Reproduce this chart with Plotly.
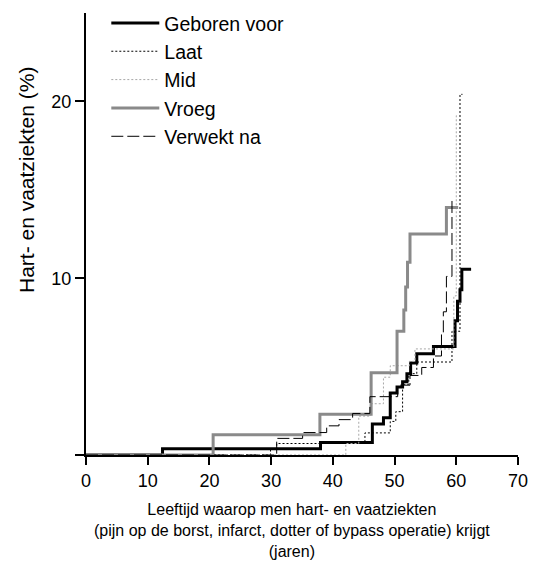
import plotly.graph_objects as go

# Age (years) at which each step occurs, and cumulative incidence (%) after the step
geboren_x = [0, 12.4, 38.0, 46.4, 48.2, 49.3, 50.4, 51.3, 52.0, 52.6, 53.6, 56.3, 59.8, 60.2, 60.6, 60.9, 62.4]
geboren_y = [0, 0.35, 0.7, 1.75, 2.1, 3.5, 3.85, 4.15, 4.6, 5.2, 5.73, 6.14, 7.6, 8.7, 9.35, 10.5, 10.5]

laat_x = [0, 29.9, 30.9, 45.2, 49.3, 50.2, 51.3, 52.3, 53.6, 59.3, 60.6, 61.0]
laat_y = [0, 0.33, 0.65, 1.25, 1.9, 2.45, 4.0, 4.6, 5.26, 7.0, 20.4, 20.4]

mid_x = [0, 42.1, 44.2, 46.1, 48.2, 49.3, 52.4, 53.3, 59.6, 60.0, 60.3]
mid_y = [0, 0.65, 2.2, 2.9, 4.4, 5.05, 5.3, 6.0, 9.0, 19.2, 19.2]

vroeg_x = [0, 20.6, 37.9, 46.2, 50.4, 51.5, 51.8, 52.1, 52.5, 58.4, 60.3]
vroeg_y = [0, 1.15, 2.3, 4.65, 7.0, 8.2, 9.5, 10.9, 12.5, 14.0, 14.0]

verwekt_x = [0, 30.9, 35.1, 39.0, 41.0, 43.2, 46.0, 50.5, 52.5, 54.4, 56.3, 57.6, 57.9, 58.4, 59.3, 59.7]
verwekt_y = [0, 0.94, 1.27, 1.65, 2.0, 2.35, 3.3, 3.95, 4.5, 4.95, 5.6, 6.9, 8.1, 10.1, 14.45, 14.45]

series = [
    ("Geboren voor", geboren_x, geboren_y, dict(color="black", width=3, dash="solid")),
    ("Laat", laat_x, laat_y, dict(color="black", width=1, dash="2px,2px")),
    ("Mid", mid_x, mid_y, dict(color="#a8a8a8", width=1, dash="2px,2px")),
    ("Vroeg", vroeg_x, vroeg_y, dict(color="#8a8a8a", width=3, dash="solid")),
    ("Verwekt na", verwekt_x, verwekt_y, dict(color="black", width=1, dash="12px,4px")),
]

fig = go.Figure()
for name, xs, ys, line in series:
    fig.add_trace(go.Scatter(x=xs, y=ys, mode="lines", name=name,
                             line=dict(shape="hv", **line)))

font_family = "Liberation Sans, Arial, sans-serif"

fig.update_layout(
    width=533, height=562,
    margin=dict(l=86, r=15, t=13, b=107, autoexpand=False),
    paper_bgcolor="white", plot_bgcolor="white",
    font=dict(family=font_family, color="black"),
    showlegend=True,
    legend=dict(x=0.047, y=1.021, xanchor="left", yanchor="top",
                font=dict(size=19.5, family=font_family, color="black"),
                itemwidth=48, bgcolor="rgba(0,0,0,0)", borderwidth=0,
                traceorder="normal"),
    xaxis=dict(range=[0, 70], tickvals=[0, 10, 20, 30, 40, 50, 60, 70],
               showgrid=False, zeroline=False, showline=True, linecolor="black",
               linewidth=2, ticks="outside", ticklen=8, tickwidth=2, tickcolor="black",
               tickfont=dict(size=18, family=font_family, color="black")),
    yaxis=dict(range=[0, 25], tickvals=[0, 10, 20], ticktext=["", "10", "20"],
               showgrid=False, zeroline=False, showline=True, linecolor="black",
               linewidth=2, ticks="outside", ticklen=9, tickwidth=2, tickcolor="black",
               tickfont=dict(size=18, family=font_family, color="black")),
    annotations=[
        dict(text="Leeftijd waarop men hart- en vaatziekten<br>(pijn op de borst, infarct, dotter of bypass operatie) krijgt<br>(jaren)",
             xref="paper", yref="paper", x=0.477, y=-0.1, xanchor="center", yanchor="top",
             showarrow=False, font=dict(size=16, family=font_family, color="black")),
        dict(text="Hart- en vaatziekten (%)", textangle=-90,
             xref="paper", yref="paper", x=-0.139, y=0.622, xanchor="center", yanchor="middle",
             showarrow=False, font=dict(size=21, family=font_family, color="black")),
    ],
)

fig.write_html("out.html")
